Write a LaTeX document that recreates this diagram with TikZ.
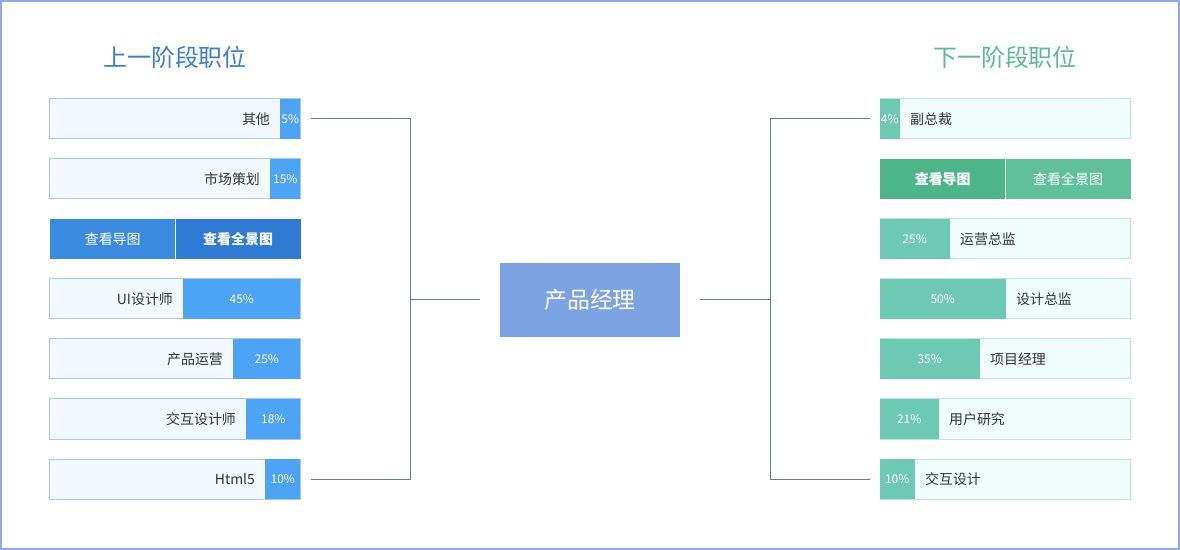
\documentclass[tikz,border=0pt]{standalone}
\usepackage{fontspec}
\setmainfont{Noto Sans CJK SC}
\usetikzlibrary{positioning}

\definecolor{frameblue}{HTML}{8EA9E8}
\definecolor{lborder}{HTML}{A9C9E1}
\definecolor{lback}{HTML}{F2F8FD}
\definecolor{lfill}{HTML}{4DA3F5}
\definecolor{lbtnA}{HTML}{3A8BE0}
\definecolor{lbtnB}{HTML}{2F7BD3}
\definecolor{rborder}{HTML}{BEE3E4}
\definecolor{rback}{HTML}{F1FDFD}
\definecolor{rfill}{HTML}{6DC9B2}
\definecolor{rbtnA}{HTML}{4DB58B}
\definecolor{rbtnB}{HTML}{61C09C}
\definecolor{ltitle}{HTML}{3B7DC8}
\definecolor{rtitle}{HTML}{5DB994}
\definecolor{hub}{HTML}{7BA3E2}
\definecolor{wire}{HTML}{627D9A}
\definecolor{txt}{HTML}{333333}

\begin{document}
\begin{tikzpicture}[x=1bp,y=-1bp]
				\tikzstyle{lbar}=[draw=lborder, fill=lback, line width=1bp, minimum width=250bp, minimum height=40bp, inner sep=0pt]
				\tikzstyle{rbar}=[draw=rborder, fill=rback, line width=1bp, minimum width=250bp, minimum height=40bp, inner sep=0pt]
				\tikzstyle{lpct}=[fill=lfill, anchor=east, minimum height=40bp, inner sep=0pt, text=white, font=\fontsize{12}{14}\selectfont]
				\tikzstyle{rpct}=[fill=rfill, anchor=west, minimum height=40bp, inner sep=0pt, text=white, font=\fontsize{12}{14}\selectfont]
				\tikzstyle{lname}=[anchor=east, inner sep=0pt, text=txt, font=\fontsize{14}{16}\selectfont]
				\tikzstyle{rname}=[anchor=west, inner sep=0pt, text=txt, font=\fontsize{14}{16}\selectfont]
				\tikzstyle{btn}=[anchor=west, minimum width=125bp, minimum height=40bp, inner sep=0pt, text=white, font=\fontsize{14}{16}\selectfont]
				\tikzstyle{title}=[font=\fontsize{24}{28}\selectfont]
				\tikzstyle{wires}=[draw=wire, line width=1bp]

				\newcommand\XLbar{175}
				\newcommand\XRbar{1005}
				\newcommand\YA{119}
				\newcommand\YB{179}
				\newcommand\YC{239}
				\newcommand\YD{299}
				\newcommand\YE{359}
				\newcommand\YF{419}
				\newcommand\YG{479}

				\useasboundingbox (0,0) rectangle (1180,550);
				\draw [frameblue, line width=2bp] (1,1) rectangle (1179,549);

				 % Titles
				\node [title, text=ltitle] at (\XLbar,57) (ltitle) {上一阶段职位};
				\node [title, text=rtitle] at (\XRbar,57) (rtitle) {下一阶段职位};

				 % Center
				\node [fill=hub, minimum width=180bp, minimum height=74bp, text=white, font=\fontsize{23}{26}\selectfont] at (590,300) (pm) {产品经理};

				 % Previous positions
				\node [lbar] at (\XLbar,\YA) (lb1) {};
				\node [lpct, minimum width=20bp] at (lb1.east) (lp1) {5\%};
				\node [lname] at ([xshift=-10bp]lp1.west) (ln1) {其他};

				\node [lbar] at (\XLbar,\YB) (lb2) {};
				\node [lpct, minimum width=30bp] at (lb2.east) (lp2) {15\%};
				\node [lname] at ([xshift=-10bp]lp2.west) (ln2) {市场策划};

				\node [btn, fill=lbtnA] at (50,\YC) (lmap) {查看导图};
				\node [btn, fill=lbtnB, font=\fontsize{14}{16}\selectfont\bfseries] at (lmap.east) (lfull) {查看全景图};

				\node [lbar] at (\XLbar,\YD) (lb4) {};
				\node [lpct, minimum width=117bp] at (lb4.east) (lp4) {45\%};
				\node [lname] at ([xshift=-10bp]lp4.west) (ln4) {UI设计师};

				\node [lbar] at (\XLbar,\YE) (lb5) {};
				\node [lpct, minimum width=67bp] at (lb5.east) (lp5) {25\%};
				\node [lname] at ([xshift=-10bp]lp5.west) (ln5) {产品运营};

				\node [lbar] at (\XLbar,\YF) (lb6) {};
				\node [lpct, minimum width=54bp] at (lb6.east) (lp6) {18\%};
				\node [lname] at ([xshift=-10bp]lp6.west) (ln6) {交互设计师};

				\node [lbar] at (\XLbar,\YG) (lb7) {};
				\node [lpct, minimum width=35bp] at (lb7.east) (lp7) {10\%};
				\node [lname] at ([xshift=-10bp]lp7.west) (ln7) {Html5};

				 % Next positions
				\node [rbar] at (\XRbar,\YA) (rb1) {};
				\node [rpct, minimum width=20bp] at (rb1.west) (rp1) {4\%};
				\node [rname] at ([xshift=10bp]rp1.east) (rn1) {副总裁};

				\node [btn, fill=rbtnA, font=\fontsize{14}{16}\selectfont\bfseries] at (880,\YB) (rmap) {查看导图};
				\node [btn, fill=rbtnB] at (rmap.east) (rfull) {查看全景图};

				\node [rbar] at (\XRbar,\YC) (rb3) {};
				\node [rpct, minimum width=70bp] at (rb3.west) (rp3) {25\%};
				\node [rname] at ([xshift=10bp]rp3.east) (rn3) {运营总监};

				\node [rbar] at (\XRbar,\YD) (rb4) {};
				\node [rpct, minimum width=126bp] at (rb4.west) (rp4) {50\%};
				\node [rname] at ([xshift=10bp]rp4.east) (rn4) {设计总监};

				\node [rbar] at (\XRbar,\YE) (rb5) {};
				\node [rpct, minimum width=100bp] at (rb5.west) (rp5) {35\%};
				\node [rname] at ([xshift=10bp]rp5.east) (rn5) {项目经理};

				\node [rbar] at (\XRbar,\YF) (rb6) {};
				\node [rpct, minimum width=59bp] at (rb6.west) (rp6) {21\%};
				\node [rname] at ([xshift=10bp]rp6.east) (rn6) {用户研究};

				\node [rbar] at (\XRbar,\YG) (rb7) {};
				\node [rpct, minimum width=35bp] at (rb7.west) (rp7) {10\%};
				\node [rname] at ([xshift=10bp]rp7.east) (rn7) {交互设计};

				 % Wires
				\coordinate (ljoin) at (410,300);
				\coordinate (rjoin) at (770,300);
				\path [wires] ([xshift=10bp]lb1.east) -| (ljoin);
				\path [wires] ([xshift=10bp]lb7.east) -| (ljoin);
				\path [wires] (ljoin) -- ([xshift=-20bp]pm.west);
				\path [wires] ([xshift=20bp]pm.east) -- (rjoin);
				\path [wires] (rjoin) |- ([xshift=-10bp]rb1.west);
				\path [wires] (rjoin) |- ([xshift=-10bp]rb7.west);

			\end{tikzpicture}
\end{document}
